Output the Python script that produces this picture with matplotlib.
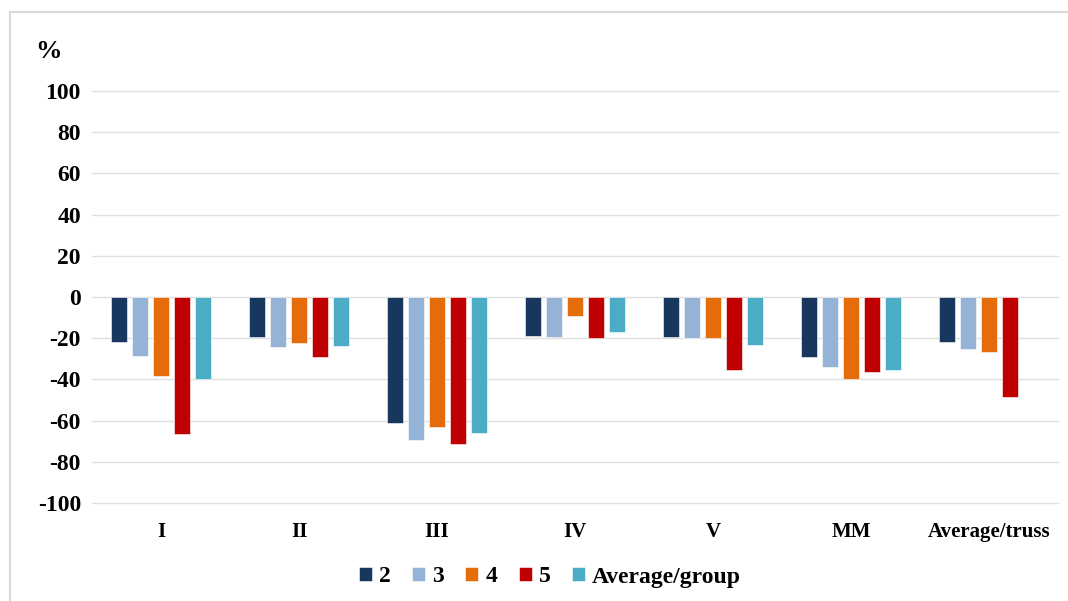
import numpy as np
import matplotlib.pyplot as plt
from matplotlib.patches import Rectangle

groups = ['I', 'II', 'III', 'IV', 'V', 'MM', 'Average/truss']
series_names = ['2', '3', '4', '5', 'Average/group']
s2 = [-22, -19.4, -61.3, -18.9, -19.4, -29, -21.8]
s3 = [-28.5, -24.2, -69.5, -19.4, -19.8, -34, -25.2]
s4 = [-38.4, -22.1, -63.2, -9.0, -19.8, -39.8, -26.6]
s5 = [-66.6, -29, -71.5, -19.8, -35.5, -36.5, -48.5]
s_avg = [-39.8, -23.7, -66.1, -16.9, -23.2, -35.5, np.nan]
colors = ['#17375E', '#95B3D7', '#E46C0A', '#C00000', '#4BACC6']

plt.rcParams['font.family'] = ['Liberation Serif', 'DejaVu Serif']
plt.rcParams['font.weight'] = 'bold'
plt.rcParams['axes.unicode_minus'] = False

fig = plt.figure(figsize=(10.68, 6.01), dpi=100)
ax = fig.add_axes([92/1068, 1 - 503/601, 966/1068, 412/601])

x = np.arange(len(groups))
width = 0.116
pitch = 0.152
for i, (vals, c, name) in enumerate(zip([s2, s3, s4, s5, s_avg], colors, series_names)):
    ax.bar(x + (i - 2) * pitch, vals, width, color=c, label=name, zorder=3,
           edgecolor='white', linewidth=0.4)

ax.set_xlim(-0.5, len(groups) - 0.5)
ax.set_ylim(-100, 100)
ax.set_yticks(np.arange(-100, 101, 20))
ax.set_xticks(x)
ax.set_xticklabels(groups)
ax.tick_params(axis='both', length=0, labelsize=17)
ax.tick_params(axis='x', pad=14, labelsize=15)
ax.tick_params(axis='y', pad=8)
ax.grid(axis='y', color='#E0E0E0', linewidth=1.0, zorder=0)
for gl in ax.get_ygridlines():
    gl.set_clip_on(False)
for sp in ax.spines.values():
    sp.set_visible(False)

fig.text(48/1068, 1 - 52/601, '%', fontsize=19, fontweight='bold', ha='center', va='center')

leg = fig.legend(loc='center', bbox_to_anchor=(550/1068, 1 - 577/601), ncol=5, frameon=False,
                 fontsize=17, handlelength=0.55, handleheight=0.55, handletextpad=0.3,
                 columnspacing=0.9)

fig.patches.append(Rectangle((10/1068, -0.01), 1.0, 1 - 12/601 + 0.01, transform=fig.transFigure,
                             fill=False, edgecolor='#D9D9D9', linewidth=1.5))

fig.savefig('out.png', dpi=100)
